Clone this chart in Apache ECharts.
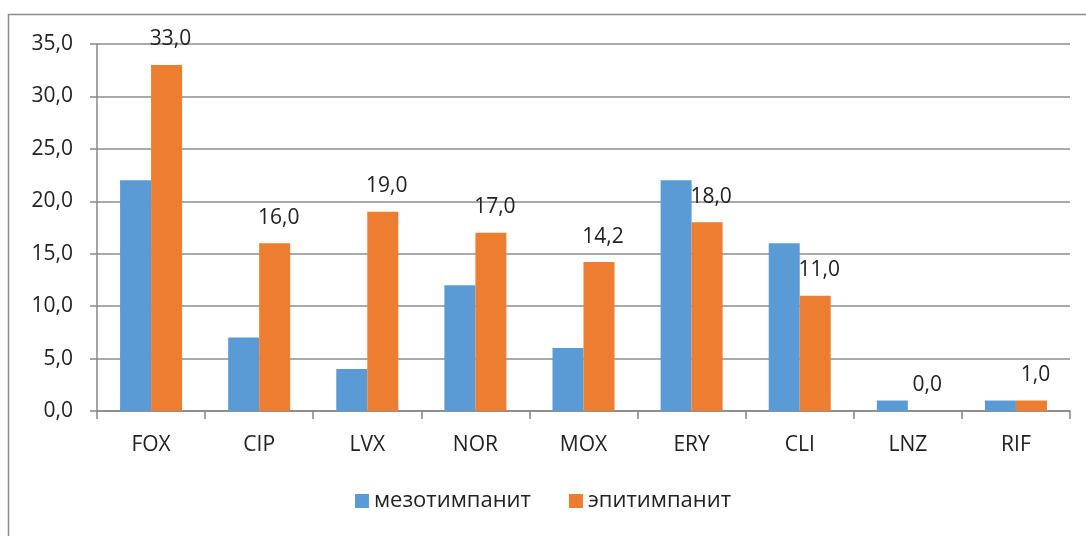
<!DOCTYPE html>
<html>
<head>
<meta charset="utf-8">
<script src="https://cdn.jsdelivr.net/npm/echarts@6/dist/echarts.min.js"></script>
<style>
html, body { margin: 0; padding: 0; background: #fff; }
#chart { width: 1086px; height: 536px; }
</style>
</head>
<body>
<div id="chart"></div>
<script>
// категории (антибиотики)
const categories = ["FOX", "CIP", "LVX", "NOR", "MOX", "ERY", "CLI", "LNZ", "RIF"];
// мезотимпанит
const mesoValues = [22, 7, 4, 12, 6, 22, 16, 1, 1];
// эпитимпанит
const epiValues = [33, 16, 19, 17, 14.2, 18, 11, 0, 1];

const fmt = v => Number(v).toFixed(1).replace(".", ",");
const font = "'Open Sans', sans-serif";

const chart = echarts.init(document.getElementById("chart"));
chart.setOption({
    animation: false,
    textStyle: { fontFamily: font },
    graphic: [{
        type: "rect",
        shape: { x: 8.5, y: 14.5, width: 1200, height: 700 },
        style: { fill: "none", stroke: "#8c8c8c", lineWidth: 1.5 },
        silent: true
    }],
    grid: { left: 97, right: 16, top: 44, bottom: 125 },
    legend: {
        bottom: 19,
        left: "center",
        itemWidth: 14,
        itemHeight: 14,
        itemGap: 38,
        icon: "rect",
        textStyle: { fontSize: 22, color: "#222", fontFamily: font },
        data: ["мезотимпанит", "эпитимпанит"]
    },
    xAxis: {
        type: "category",
        data: categories,
        axisLine: { lineStyle: { color: "#868686", width: 1.5 } },
        axisTick: { show: true, length: 8, lineStyle: { color: "#868686", width: 1.5 } },
        axisLabel: { fontSize: 21, color: "#222", margin: 24, fontFamily: font }
    },
    yAxis: {
        type: "value",
        min: 0,
        max: 35,
        interval: 5,
        axisLine: { show: true, lineStyle: { color: "#868686", width: 1.5 } },
        axisTick: { show: true, length: 7, lineStyle: { color: "#868686", width: 1.5 } },
        splitLine: { lineStyle: { color: "#8c8c8c", width: 1.5 } },
        axisLabel: { fontSize: 21, color: "#222", margin: 24, formatter: fmt, fontFamily: font }
    },
    series: [
        {
            name: "мезотимпанит",
            type: "bar",
            data: mesoValues,
            barWidth: 31,
            barGap: "0%",
            itemStyle: { color: "#5B9BD5" }
        },
        {
            name: "эпитимпанит",
            type: "bar",
            data: epiValues,
            barWidth: 31,
            barGap: "0%",
            itemStyle: { color: "#ED7D31" },
            label: {
                show: true,
                position: "top",
                distance: 15,
                offset: [4, 0],
                fontSize: 21,
                color: "#222",
                fontFamily: font,
                formatter: p => fmt(p.value)
            }
        }
    ]
});
</script>
</body>
</html>
